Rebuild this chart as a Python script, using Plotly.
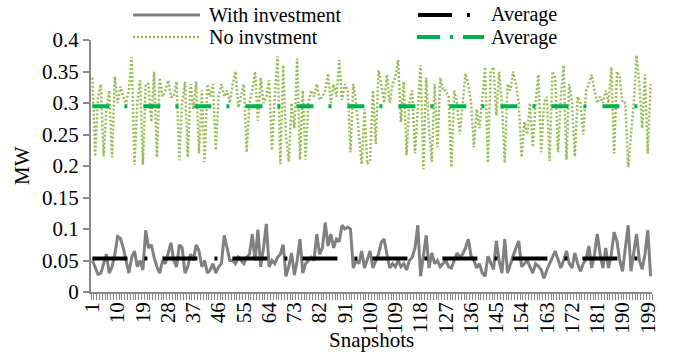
import plotly.graph_objects as go

# ---- data -------------------------------------------------------------
snapshots = list(range(1, 201))

with_investment = [
    0.050, 0.040, 0.028, 0.030, 0.045, 0.060, 0.030, 0.040, 0.060, 0.088,
    0.085, 0.070, 0.050, 0.030, 0.055, 0.065, 0.040, 0.050, 0.035, 0.098,
    0.070, 0.075, 0.055, 0.040, 0.030, 0.050, 0.045, 0.060, 0.078, 0.050,
    0.040, 0.075, 0.070, 0.030, 0.040, 0.060, 0.050, 0.075, 0.065, 0.040,
    0.050, 0.030, 0.035, 0.045, 0.030, 0.040, 0.045, 0.090, 0.070, 0.050,
    0.050, 0.045, 0.055, 0.050, 0.045, 0.055, 0.060, 0.092, 0.050, 0.099,
    0.040, 0.070, 0.108, 0.040, 0.050, 0.045, 0.055, 0.060, 0.075, 0.025,
    0.040, 0.062, 0.027, 0.050, 0.084, 0.030, 0.045, 0.050, 0.055, 0.050,
    0.092, 0.060, 0.070, 0.110, 0.073, 0.092, 0.070, 0.084, 0.080, 0.106,
    0.100, 0.103, 0.100, 0.038, 0.050, 0.045, 0.065, 0.038, 0.050, 0.065,
    0.038, 0.050, 0.060, 0.079, 0.084, 0.060, 0.038, 0.045, 0.040, 0.050,
    0.040, 0.045, 0.035, 0.050, 0.055, 0.070, 0.106, 0.025, 0.060, 0.090,
    0.038, 0.062, 0.045, 0.050, 0.040, 0.045, 0.050, 0.040, 0.038, 0.050,
    0.062, 0.055, 0.060, 0.070, 0.084, 0.057, 0.050, 0.038, 0.045, 0.030,
    0.025, 0.057, 0.045, 0.036, 0.081, 0.050, 0.030, 0.084, 0.030, 0.045,
    0.057, 0.070, 0.081, 0.040, 0.045, 0.050, 0.040, 0.030, 0.045, 0.041,
    0.035, 0.022, 0.035, 0.044, 0.055, 0.065, 0.050, 0.038, 0.050, 0.065,
    0.045, 0.038, 0.062, 0.045, 0.033, 0.045, 0.052, 0.073, 0.038, 0.060,
    0.092, 0.060, 0.038, 0.070, 0.038, 0.060, 0.095, 0.081, 0.050, 0.033,
    0.070, 0.106, 0.033, 0.060, 0.092, 0.050, 0.036, 0.060, 0.098, 0.025,
]

no_investment = [
    0.340, 0.215, 0.310, 0.330, 0.215, 0.290, 0.320, 0.214, 0.342, 0.300,
    0.326, 0.310, 0.300, 0.320, 0.373, 0.202, 0.300, 0.336, 0.202, 0.330,
    0.330, 0.270, 0.350, 0.214, 0.340, 0.310, 0.320, 0.336, 0.310, 0.310,
    0.334, 0.209, 0.300, 0.334, 0.214, 0.330, 0.290, 0.334, 0.220, 0.320,
    0.206, 0.330, 0.310, 0.330, 0.225, 0.310, 0.330, 0.310, 0.320, 0.300,
    0.330, 0.350, 0.293, 0.310, 0.330, 0.222, 0.300, 0.320, 0.350, 0.272,
    0.340, 0.300, 0.310, 0.336, 0.225, 0.310, 0.374, 0.203, 0.360, 0.250,
    0.207, 0.300, 0.260, 0.370, 0.210, 0.320, 0.210, 0.300, 0.320, 0.310,
    0.330, 0.305, 0.310, 0.320, 0.347, 0.300, 0.330, 0.310, 0.368, 0.305,
    0.330, 0.320, 0.222, 0.330, 0.300, 0.250, 0.203, 0.290, 0.203, 0.210,
    0.320, 0.235, 0.352, 0.330, 0.300, 0.345, 0.300, 0.330, 0.340, 0.368,
    0.270, 0.334, 0.217, 0.300, 0.320, 0.220, 0.300, 0.360, 0.195, 0.340,
    0.260, 0.207, 0.330, 0.230, 0.340, 0.320, 0.320, 0.310, 0.198, 0.320,
    0.300, 0.250, 0.300, 0.347, 0.330, 0.300, 0.230, 0.290, 0.260, 0.310,
    0.357, 0.205, 0.350, 0.357, 0.280, 0.350, 0.300, 0.205, 0.330, 0.320,
    0.350, 0.330, 0.300, 0.214, 0.270, 0.250, 0.300, 0.230, 0.300, 0.345,
    0.222, 0.300, 0.310, 0.208, 0.350, 0.340, 0.222, 0.310, 0.360, 0.210,
    0.330, 0.300, 0.215, 0.310, 0.300, 0.250, 0.320, 0.330, 0.345, 0.320,
    0.300, 0.310, 0.300, 0.320, 0.300, 0.357, 0.220, 0.350, 0.340, 0.300,
    0.300, 0.198, 0.250, 0.300, 0.376, 0.330, 0.260, 0.345, 0.220, 0.330,
]

avg_with_investment = 0.053
avg_no_investment = 0.295

x_tick_values = list(range(1, 200, 9))          # 1, 10, 19, ..., 199
x_tick_labels = [str(v) for v in x_tick_values]
y_tick_values = [0, 0.05, 0.1, 0.15, 0.2, 0.25, 0.3, 0.35, 0.4]

legend_labels = ["With investment", "Average", "No invstment", "Average"]

# ---- styling ----------------------------------------------------------
FONT = "Liberation Serif, Times New Roman, serif"
FS = 21
LEG_FS = 20
AXIS_GREY = "#898989"
W, H = 689, 352
M_L, M_R, M_T, M_B = 91, 37, 40, 60
PW, PH = W - M_L - M_R, H - M_T - M_B


def px_x(px):
    """Pixel column -> paper x."""
    return (px - M_L) / PW


def px_y(py):
    """Pixel row (from top) -> paper y."""
    return (H - M_B - py) / PH


fig = go.Figure()

fig.add_trace(go.Scatter(
    x=snapshots, y=no_investment, mode="lines",
    line=dict(color="#9bbb59", width=2.5, dash="2px,2px"),
    showlegend=False, hoverinfo="skip"))
fig.add_trace(go.Scatter(
    x=snapshots, y=[avg_no_investment] * len(snapshots), mode="lines",
    line=dict(color="#00b050", width=4, dash="17px,15px,3px,16px"),
    showlegend=False, hoverinfo="skip"))
fig.add_trace(go.Scatter(
    x=snapshots, y=with_investment, mode="lines",
    line=dict(color="#808080", width=3),
    showlegend=False, hoverinfo="skip"))
fig.add_trace(go.Scatter(
    x=snapshots, y=[avg_with_investment] * len(snapshots), mode="lines",
    line=dict(color="#000000", width=4, dash="35px,17px,3px,15px"),
    showlegend=False, hoverinfo="skip"))

# ---- hand-built two-column legend --------------------------------------
shapes = []
annotations = []
legend_rows = [15, 37]
sample_specs = [
    # (x0, x1, row, colour, width, dash)
    (133, 200, 0, "#808080", 3, "solid"),
    (418, 472, 0, "#000000", 4, "34px,15px,3px,15px"),
    (133, 200, 1, "#9bbb59", 2.5, "2px,2px"),
    (417, 484, 1, "#00b050", 4, "23px,10px,3px,10px"),
]
text_x = [208, 490, 208, 490]
for (x0, x1, row, col, wd, dash), label, tx in zip(sample_specs, legend_labels, text_x):
    yy = px_y(legend_rows[row])
    shapes.append(dict(type="line", xref="paper", yref="paper",
                       x0=px_x(x0), x1=px_x(x1), y0=yy, y1=yy,
                       line=dict(color=col, width=wd, dash=dash)))
    annotations.append(dict(xref="paper", yref="paper", x=px_x(tx), y=yy,
                            xanchor="left", yanchor="middle", text=label,
                            showarrow=False, borderpad=0,
                            font=dict(family=FONT, size=LEG_FS, color="black")))

# axis titles
annotations.append(dict(xref="paper", yref="paper", x=px_x(22), y=0.5,
                        text="MW", textangle=-90, showarrow=False,
                        xanchor="center", yanchor="middle",
                        font=dict(family=FONT, size=FS, color="black")))
annotations.append(dict(xref="paper", yref="paper", x=0.5, y=px_y(340),
                        text="Snapshots", showarrow=False, borderpad=0,
                        xanchor="center", yanchor="middle",
                        font=dict(family=FONT, size=FS, color="black")))

fig.update_layout(
    width=W, height=H,
    margin=dict(l=M_L, r=M_R, t=M_T, b=M_B),
    paper_bgcolor="white", plot_bgcolor="white",
    font=dict(family=FONT, size=FS, color="black"),
    shapes=shapes, annotations=annotations,
    xaxis=dict(
        range=[0.5, 200.5], tickmode="array",
        tickvals=x_tick_values, ticktext=x_tick_labels,
        tickangle=-90, ticks="", showgrid=False, zeroline=False,
        showline=True, linecolor=AXIS_GREY, linewidth=1.5,
        tickfont=dict(family=FONT, size=FS, color="black"),
        minor=dict(tickmode="linear", tick0=0.5, dtick=1, ticks="outside",
                   ticklen=6, tickwidth=1, tickcolor=AXIS_GREY, showgrid=False),
    ),
    yaxis=dict(
        range=[0, 0.4], tickmode="array", tickvals=y_tick_values,
        ticks="outside", ticklen=6, tickwidth=1.5, tickcolor=AXIS_GREY,
        showgrid=False, zeroline=False,
        showline=True, linecolor=AXIS_GREY, linewidth=2,
        tickfont=dict(family=FONT, size=FS, color="black"),
    ),
)

fig.write_html("out.html")
